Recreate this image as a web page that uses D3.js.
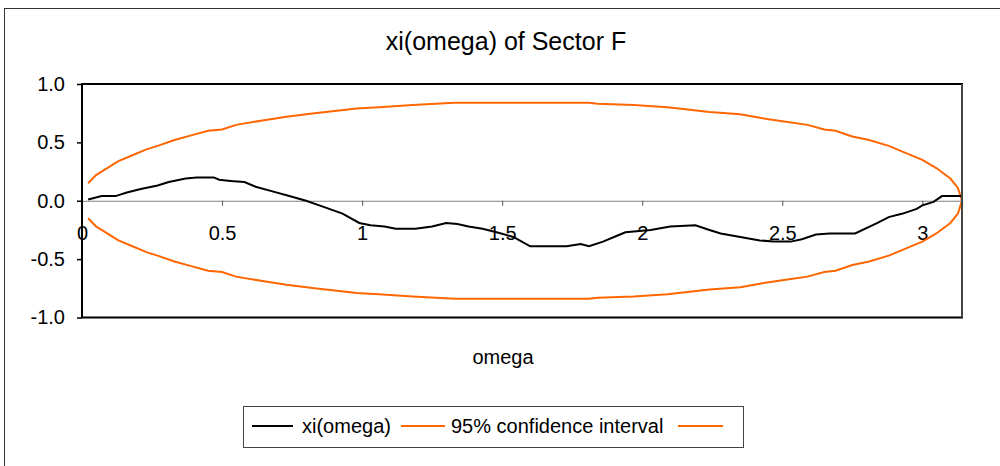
<!DOCTYPE html>
<html>
<head>
<meta charset="utf-8">
<script src="https://cdn.jsdelivr.net/npm/d3@7"></script>
<style>
  html, body { margin: 0; padding: 0; background: #fff; }
  svg { display: block; font-family: "Liberation Sans", Arial, sans-serif; }
</style>
</head>
<body>
<svg id="chart" width="1000" height="466"></svg>
<script>
// Frequency grid (radians) and the periodogram-based estimate xi(omega)
const xiOmega = [0.022, 0.07, 0.12, 0.16, 0.21, 0.27, 0.31, 0.37, 0.41, 0.47, 0.49, 0.53, 0.58, 0.62, 0.68, 0.74,
  0.80, 0.86, 0.93, 0.99, 1.03, 1.08, 1.12, 1.19, 1.25, 1.30, 1.34, 1.38, 1.43, 1.48, 1.54, 1.57, 1.60,
  1.73, 1.78, 1.81, 1.86, 1.91, 1.94, 2.03, 2.10, 2.19, 2.24, 2.28, 2.35, 2.42, 2.47, 2.53, 2.57, 2.62,
  2.67, 2.76, 2.84, 2.88, 2.93, 2.98, 3.00, 3.04, 3.07, 3.1416];
const xiValues = [0.01, 0.04, 0.04, 0.07, 0.10, 0.13, 0.16, 0.19, 0.20, 0.20, 0.18, 0.17, 0.16, 0.12, 0.08, 0.04,
  0.00, -0.05, -0.11, -0.19, -0.21, -0.22, -0.24, -0.24, -0.22, -0.19, -0.20, -0.22, -0.24, -0.27, -0.31, -0.35, -0.39,
  -0.39, -0.37, -0.39, -0.35, -0.30, -0.27, -0.25, -0.22, -0.21, -0.25, -0.28, -0.31, -0.34, -0.35, -0.35, -0.33, -0.29,
  -0.28, -0.28, -0.19, -0.14, -0.11, -0.07, -0.04, -0.01, 0.04, 0.04];

// 95% confidence band
const ciOmega = [0.022, 0.05, 0.07, 0.09, 0.13, 0.18, 0.23, 0.27, 0.33, 0.39, 0.45, 0.50, 0.55, 0.65, 0.73, 0.83,
  0.91, 0.98, 1.06, 1.18, 1.33, 1.57, 1.81, 1.84, 1.97, 2.09, 2.17, 2.24, 2.35, 2.42, 2.50, 2.59, 2.65, 2.69,
  2.75, 2.81, 2.88, 2.94, 3.00, 3.05, 3.10, 3.127, 3.1416];
const ciUpper = [0.15, 0.22, 0.25, 0.28, 0.34, 0.39, 0.44, 0.47, 0.52, 0.56, 0.60, 0.61, 0.65, 0.69, 0.72, 0.75,
  0.77, 0.79, 0.80, 0.82, 0.84, 0.84, 0.84, 0.83, 0.82, 0.80, 0.78, 0.76, 0.74, 0.71, 0.68, 0.65, 0.61, 0.60,
  0.55, 0.52, 0.47, 0.41, 0.35, 0.28, 0.19, 0.11, 0.00];
const ciLower = [-0.15, -0.22, -0.25, -0.28, -0.34, -0.39, -0.44, -0.47, -0.52, -0.56, -0.60, -0.61, -0.65, -0.69, -0.72, -0.75,
  -0.77, -0.79, -0.80, -0.82, -0.84, -0.84, -0.84, -0.83, -0.82, -0.80, -0.78, -0.76, -0.74, -0.71, -0.68, -0.65, -0.61, -0.60,
  -0.55, -0.52, -0.47, -0.41, -0.35, -0.28, -0.19, -0.11, 0.00];

const xTicks = [0, 0.5, 1, 1.5, 2, 2.5, 3];
const yTicks = [-1.0, -0.5, 0.0, 0.5, 1.0];

const seriesNames = ["xi(omega)", "95% confidence interval", ""];
const seriesColors = ["#000000", "#FF6600", "#FF6600"];

const svg = d3.select("#chart");
const plot = { left: 82, right: 962, top: 84, bottom: 317.5 };

const x = d3.scaleLinear().domain([0, Math.PI]).range([plot.left, plot.right]);
const y = d3.scaleLinear().domain([-1, 1]).range([plot.bottom, plot.top]);

// Outer chart frame
svg.append("rect")
  .attr("x", 4.5).attr("y", 8.5).attr("width", 1000).attr("height", 470)
  .attr("fill", "#fff").attr("stroke", "#333").attr("stroke-width", 1);

// Title
svg.append("text")
  .attr("x", 506).attr("y", 50)
  .attr("text-anchor", "middle")
  .attr("font-size", 25)
  .attr("fill", "#000")
  .text("xi(omega) of Sector F");

// Horizontal axis crossing at zero
const xAxis = d3.axisBottom(x).tickValues(xTicks).tickSize(5).tickPadding(20)
  .tickFormat(d => d3.format("")(d));
const gx = svg.append("g").attr("transform", `translate(0,${y(0)})`).call(xAxis);
gx.select(".domain").attr("stroke", "#808080").attr("stroke-width", 1.2);
gx.selectAll(".tick line").attr("stroke", "#555").attr("stroke-width", 1);
gx.selectAll(".tick text").attr("font-size", 20).attr("fill", "#000")
  .attr("font-family", "Liberation Sans, Arial, sans-serif");

// Vertical axis
const yAxis = d3.axisLeft(y).tickValues(yTicks).tickSize(5).tickPadding(12)
  .tickFormat(d3.format(".1f"));
const gy = svg.append("g").attr("transform", `translate(${plot.left},0)`).call(yAxis);
gy.select(".domain").remove();
gy.selectAll(".tick line").attr("stroke", "#000").attr("stroke-width", 1.5);
gy.selectAll(".tick text").attr("font-size", 20).attr("fill", "#000")
  .attr("font-family", "Liberation Sans, Arial, sans-serif")
  .text(d => d3.format(".1f")(d).replace("\u2212", "-"));

// Series lines
const line = d3.line().x(d => x(d[0])).y(d => y(d[1]));
const xiPts = xiOmega.map((w, i) => [w, xiValues[i]]);
const upPts = ciOmega.map((w, i) => [w, ciUpper[i]]);
const loPts = ciOmega.map((w, i) => [w, ciLower[i]]);

svg.append("path").datum(upPts).attr("d", line)
  .attr("fill", "none").attr("stroke", seriesColors[1]).attr("stroke-width", 2);
svg.append("path").datum(loPts).attr("d", line)
  .attr("fill", "none").attr("stroke", seriesColors[2]).attr("stroke-width", 2);
svg.append("path").datum(xiPts).attr("d", line)
  .attr("fill", "none").attr("stroke", seriesColors[0]).attr("stroke-width", 2);

// Plot area border
svg.append("path")
  .attr("d", `M${plot.left},${plot.top}H${plot.right}V${plot.bottom}H${plot.left}Z`)
  .attr("fill", "none").attr("stroke", "#000").attr("stroke-width", 2);
svg.append("line")
  .attr("x1", plot.right).attr("x2", plot.right).attr("y1", plot.top).attr("y2", plot.bottom)
  .attr("stroke", "#444").attr("stroke-width", 2);

// Horizontal axis title
svg.append("text")
  .attr("x", 503).attr("y", 364)
  .attr("text-anchor", "middle")
  .attr("font-size", 20)
  .attr("fill", "#000")
  .text("omega");

// Legend
const legend = svg.append("g");
legend.append("rect")
  .attr("x", 243.5).attr("y", 406.5).attr("width", 500).attr("height", 41)
  .attr("fill", "#fff").attr("stroke", "#444").attr("stroke-width", 1);
const legendItems = [
  { x1: 252, x2: 293, tx: 302 },
  { x1: 401, x2: 445, tx: 451 },
  { x1: 678, x2: 723, tx: 730 }
];
legendItems.forEach((it, i) => {
  legend.append("line")
    .attr("x1", it.x1).attr("x2", it.x2).attr("y1", 426).attr("y2", 426)
    .attr("stroke", seriesColors[i]).attr("stroke-width", 2);
  legend.append("text")
    .attr("x", it.tx).attr("y", 433)
    .attr("font-size", 20).attr("fill", "#000")
    .text(seriesNames[i]);
});
</script>
</body>
</html>
